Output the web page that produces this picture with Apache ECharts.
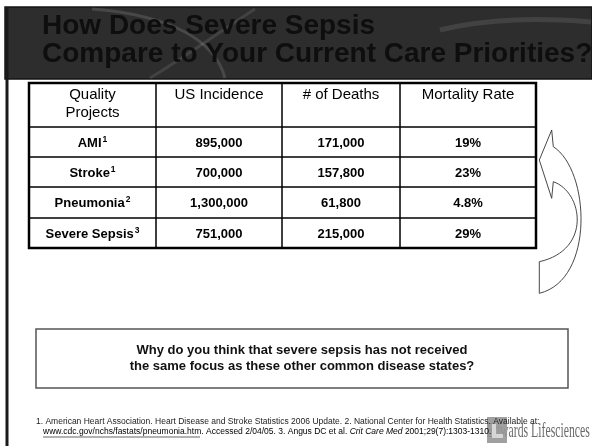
<!DOCTYPE html>
<html><head><meta charset="utf-8">
<script src="https://cdn.jsdelivr.net/npm/echarts@6/dist/echarts.min.js"></script>
<style>html,body{margin:0;padding:0;background:#fff}#c{width:592px;height:446px}</style>
</head><body><div id="c"></div>
<script>
// ---- data ----
const headers = ['Quality\nProjects', 'US Incidence', '# of Deaths', 'Mortality Rate'];
const projects = ['AMI', 'Stroke', 'Pneumonia', 'Severe Sepsis'];
const refs = ['1', '1', '2', '3'];
const incidence = ['895,000', '700,000', '1,300,000', '751,000'];
const deaths = ['171,000', '157,800', '61,800', '215,000'];
const mortality = ['19%', '23%', '4.8%', '29%'];
const titleText = 'How Does Severe Sepsis\nCompare to Your Current Care Priorities?';
const question = 'Why do you think that severe sepsis has not received\nthe same focus as these other common disease states?';
const foot1 = '1. American Heart Association. Heart Disease and Stroke Statistics 2006 Update. 2. National Center for Health Statistics. Available at:';
const footUrl = 'www.cdc.gov/nchs/fastats/pneumonia.htm';
const foot2a = '. Accessed 2/04/05. 3. Angus DC et al. ';
const foot2b = 'Crit Care Med';
const foot2c = ' 2001;29(7):1303-1310.';
const logoText = 'Edwards Lifesciences';

// ---- layout (not data) ----
const colW = [127, 126, 118, 136];
const rowH = [44, 30, 30, 31, 30];
const cum = a => a.reduce((acc, v) => { acc.push(acc[acc.length - 1] + v); return acc; }, [0]);
const colX = cum(colW), rowY = cum(rowH);
const FF = '"Liberation Sans", Arial, sans-serif';
const FS_FOOT = 8.5;

const cells = [];
headers.forEach((h, c) => cells.push({ c, r: 0, text: h, header: true }));
projects.forEach((p, i) => {
  const r = i + 1;
  cells.push({ c: 0, r, text: '{b|' + p + '}{s|' + refs[i] + '}' });
  cells.push({ c: 1, r, text: '{b|' + incidence[i] + '}' });
  cells.push({ c: 2, r, text: '{b|' + deaths[i] + '}' });
  cells.push({ c: 3, r, text: '{b|' + mortality[i] + '}' });
});

const arrowStyle = { stroke: '#333', lineWidth: 0.9, fill: 'none' };

const chart = echarts.init(document.getElementById('c'));
chart.setOption({
  animation: false,
  backgroundColor: '#fff',
  title: {
    text: titleText, left: 37, top: 7,
    textStyle: { fontFamily: FF, fontSize: 28, fontWeight: 'bold', color: '#0e0e0e', lineHeight: 28 }
  },
  grid: { left: 29, top: 83, width: colX[4], height: rowY[5], show: true, borderColor: '#000', borderWidth: 2.5, backgroundColor: 'transparent' },
  xAxis: { type: 'value', min: 0, max: colX[4], show: false },
  yAxis: { type: 'value', min: 0, max: rowY[5], inverse: true, show: false },
  series: [{
    type: 'custom',
    coordinateSystem: 'cartesian2d',
    data: cells.map(d => [d.c, d.r]),
    renderItem(params, api) {
      const d = cells[params.dataIndex];
      const p0 = api.coord([colX[d.c], rowY[d.r]]);
      const p1 = api.coord([colX[d.c + 1], rowY[d.r + 1]]);
      const cx = (p0[0] + p1[0]) / 2;
      const txt = d.header
        ? { text: d.text, x: cx, y: p0[1] + 3, align: 'center', verticalAlign: 'top', fontFamily: FF, fontSize: 15, lineHeight: 18, fill: '#000' }
        : { text: d.text, x: cx, y: (p0[1] + p1[1]) / 2 + 1, align: 'center', verticalAlign: 'middle',
            rich: {
              b: { fontFamily: FF, fontSize: 13, fontWeight: 'bold', color: '#000', lineHeight: 16 },
              s: { fontFamily: FF, fontSize: 8.5, fontWeight: 'bold', color: '#000', lineHeight: 10, verticalAlign: 'top', padding: [0, 0, 0, 1] }
            } };
      return { type: 'group', children: [
        { type: 'rect', shape: { x: p0[0], y: p0[1], width: p1[0] - p0[0], height: p1[1] - p0[1] }, style: { fill: 'none', stroke: '#000', lineWidth: 1 } },
        { type: 'text', style: txt }
      ] };
    }
  }],
  graphic: [
    { type: 'rect', z: 0, shape: { x: 5, y: 7, width: 587, height: 72 }, style: { fill: '#2d2d2d', stroke: '#151515', lineWidth: 1.5 } },
    { type: 'bezierCurve', z: 1, shape: { x1: 92, y1: 9, cpx1: 170, cpy1: 15, cpx2: 215, cpy2: 40, x2: 225, y2: 78 }, style: { stroke: 'rgba(255,255,255,0.13)', lineWidth: 3, fill: 'none' } },
    { type: 'bezierCurve', z: 1, shape: { x1: 255, y1: 9, cpx1: 215, cpy1: 35, cpx2: 180, cpy2: 60, x2: 150, y2: 78 }, style: { stroke: 'rgba(255,255,255,0.10)', lineWidth: 3, fill: 'none' } },
    { type: 'bezierCurve', z: 1, shape: { x1: 440, y1: 30, cpx1: 490, cpy1: 18, cpx2: 540, cpy2: 18, x2: 591, y2: 22 }, style: { stroke: 'rgba(255,255,255,0.10)', lineWidth: 5, fill: 'none' } },
    { type: 'rect', z: 1, shape: { x: 5.5, y: 7, width: 3, height: 439 }, style: { fill: '#1a1a1a' } },
    // curved arrow
    { type: 'polyline', z: 3, shape: { points: [[553.3, 146.7], [551.7, 130], [539.3, 160], [551.7, 198.3], [553.3, 181.7]] }, style: arrowStyle },
    { type: 'bezierCurve', z: 3, shape: { x1: 553.3, y1: 181.7, cpx1: 583, cpy1: 192, cpx2: 592, cpy2: 250, x2: 539.3, y2: 261.7 }, style: arrowStyle },
    { type: 'line', z: 3, shape: { x1: 539.3, y1: 261.7, x2: 539.3, y2: 293.3 }, style: arrowStyle },
    { type: 'bezierCurve', z: 3, shape: { x1: 539.3, y1: 293.3, cpx1: 595, cpy1: 280, cpx2: 590, cpy2: 170, x2: 553.3, y2: 146.7 }, style: arrowStyle },
    // question box
    { type: 'rect', z: 3, shape: { x: 36, y: 329, width: 532, height: 59 }, style: { fill: '#fff', stroke: '#555', lineWidth: 1.5 } },
    { type: 'text', z: 4, style: { text: question, x: 302, y: 358.5, align: 'center', verticalAlign: 'middle', fontFamily: FF, fontSize: 13, fontWeight: 'bold', lineHeight: 16, fill: '#111' } },
    // logo
    { type: 'text', z: 3, x: 487, y: 442, scaleX: 0.56, style: { text: logoText, x: 0, y: 0, align: 'left', verticalAlign: 'bottom', fontFamily: '"Liberation Serif", "Times New Roman", serif', fontSize: 21, fill: '#6a6a6a' } },
    { type: 'rect', z: 3, shape: { x: 487, y: 417, width: 20, height: 26 }, style: { fill: 'rgba(150,150,150,0.9)' } },
    { type: 'rect', z: 3, shape: { x: 492, y: 424, width: 4, height: 14 }, style: { fill: '#d6d6d6' } },
    { type: 'rect', z: 3, shape: { x: 492, y: 434, width: 11, height: 4 }, style: { fill: '#d6d6d6' } },
    // footnotes
    { type: 'text', z: 4, style: { text: foot1, x: 36, y: 422, verticalAlign: 'middle', fontFamily: FF, fontSize: FS_FOOT, fill: '#222' } },
    { type: 'text', z: 4, style: { text: '{n|' + footUrl + foot2a + '}{i|' + foot2b + '}{n|' + foot2c + '}', x: 43, y: 432, verticalAlign: 'middle',
        rich: { n: { fontFamily: FF, fontSize: FS_FOOT, color: '#222' }, i: { fontFamily: FF, fontSize: FS_FOOT, fontStyle: 'italic', color: '#222' } } } },
    { type: 'line', z: 4, shape: { x1: 43, y1: 437, x2: 200, y2: 437 }, style: { stroke: '#222', lineWidth: 0.7 } }
  ]
});
</script>
</body></html>
